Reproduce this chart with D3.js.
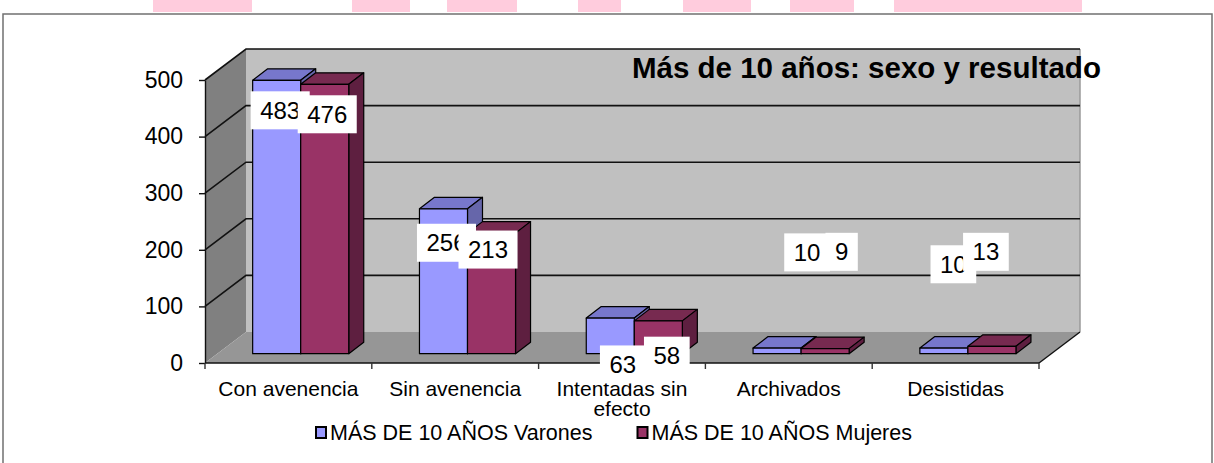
<!DOCTYPE html>
<html><head><meta charset="utf-8">
<script src="https://cdn.jsdelivr.net/npm/d3@7"></script>
<style>html,body{margin:0;padding:0;background:#fff;} svg{display:block;font-family:"Liberation Sans",Arial,sans-serif;}</style>
</head><body><svg id="c" width="1214" height="463"></svg>
<script>
// ---- data ----
const categories = ["Con avenencia", "Sin avenencia", "Intentadas sin efecto", "Archivados", "Desistidas"];
const varones = [483, 256, 63, 10, 10];
const mujeres = [476, 213, 58, 9, 13];
const seriesNames = ["MÁS DE 10 AÑOS Varones", "MÁS DE 10 AÑOS Mujeres"];
const yTicks = [0, 100, 200, 300, 400, 500];
const title = "Más de 10 años: sexo y resultado";

// ---- layout (manually placed data labels, in value units / px shift) ----
const labelAnchorV = [430, 196, -19, 179, 158];
const labelAnchorM = [423, 184, -3.5, 180, 180];
const labelShiftV = [3.5, 3, 12.5, 30, 9.5];
const labelShiftM = [2.5, -3.5, 8.5, 16.5, -6];
const topStrips = [[153, 252], [352, 410], [447, 517], [578, 621], [683, 751], [790, 854], [894, 1082]];

const colors = {
  v: {front: "#9999FF", top: "#7777CC", side: "#6666AA"},
  m: {front: "#993366", top: "#772A50", side: "#5E1F40"}
};

const svg = d3.select("#c");
const FONT = '"Liberation Sans", Arial, sans-serif';
const DX = 41, DY = 31;          // full floor depth
const BSX = 12.3, BSY = 9.3;     // bar depth position
const BDX = 15, BDY = 11.5;      // bar thickness in depth

const x = d3.scaleBand().domain(categories).range([205, 1039]);
const y = d3.scaleLinear().domain([0, 500]).range([363, 80]);
const xs = d3.scaleBand().domain([0, 1]).range([0, x.bandwidth() * 0.576]);

// top pink strips
svg.selectAll("rect.strip").data(topStrips).join("rect")
  .attr("x", d => d[0]).attr("y", 0).attr("width", d => d[1] - d[0]).attr("height", 12)
  .attr("fill", "#FFCCDD");
// frame
svg.append("rect").attr("x", 3).attr("y", 14).attr("width", 1209).attr("height", 470)
  .attr("fill", "none").attr("stroke", "#707070").attr("stroke-width", 1.5);

const x0 = x.range()[0], x1 = x.range()[1];
const y0 = y(0), yTop = y(500);
// back wall
svg.append("rect").attr("x", x0 + DX).attr("y", yTop - DY).attr("width", x1 - x0).attr("height", y0 - yTop)
  .attr("fill", "#C0C0C0");
// left wall
svg.append("path").attr("d", `M${x0},${yTop}L${x0 + DX},${yTop - DY}L${x0 + DX},${y0 - DY}L${x0},${y0}Z`)
  .attr("fill", "#808080");
// floor
svg.append("path").attr("d", `M${x0},${y0}L${x0 + DX},${y0 - DY}L${x1 + DX},${y0 - DY}L${x1},${y0}Z`)
  .attr("fill", "#969696");
// back wall right edge
svg.append("line").attr("x1", x1 + DX).attr("x2", x1 + DX).attr("y1", yTop - DY).attr("y2", y0 - DY)
  .attr("stroke", "#9a9a9a").attr("stroke-width", 1.5);
// gridlines
svg.selectAll("path.grid").data(yTicks.filter(t => t > 0)).join("path")
  .attr("d", t => `M${x0},${y(t)}L${x0 + DX},${y(t) - DY}L${x1 + DX},${y(t) - DY}`)
  .attr("fill", "none").attr("stroke", "#111").attr("stroke-width", 1.6);
// floor right edge
svg.append("line").attr("x1", x1).attr("y1", y0).attr("x2", x1 + DX).attr("y2", y0 - DY)
  .attr("stroke", "#111").attr("stroke-width", 1.4);

// value axis
const ya = svg.append("g").attr("transform", `translate(${x0},0)`)
  .call(d3.axisLeft(y).tickValues(yTicks).tickSize(6).tickSizeOuter(0).tickPadding(16).tickFormat(d3.format("d")));
ya.select(".domain").attr("stroke", "#111").attr("stroke-width", 1.4);
ya.selectAll(".tick line").attr("stroke", "#111").attr("stroke-width", 1.4);
ya.selectAll(".tick text").attr("font-size", 23).attr("font-family", FONT).attr("fill", "#000");

// category axis line + boundary ticks
svg.append("line").attr("x1", x0).attr("x2", x1).attr("y1", y0).attr("y2", y0)
  .attr("stroke", "#111").attr("stroke-width", 1.6);
const bounds = categories.map(c => x(c)).concat([x1]);
svg.selectAll("line.bt").data(bounds).join("line")
  .attr("x1", d => d).attr("x2", d => d).attr("y1", y0).attr("y2", y0 + 6)
  .attr("stroke", "#333").attr("stroke-width", 1.4);

// bars
function bar(g, left, val, col) {
  const bw = xs.bandwidth();
  const base = y(0) - BSY, top = y(val) - BSY;
  g.append("path").attr("d", `M${left},${top}L${left + bw},${top}L${left + bw + BDX},${top - BDY}L${left + BDX},${top - BDY}Z`)
    .attr("fill", col.top);
  g.append("path").attr("d", `M${left + bw},${top}L${left + bw + BDX},${top - BDY}L${left + bw + BDX},${base - BDY}L${left + bw},${base}Z`)
    .attr("fill", col.side);
  g.append("rect").attr("x", left).attr("y", top).attr("width", bw).attr("height", base - top)
    .attr("fill", col.front);
  g.selectAll("path,rect").attr("stroke", "#000").attr("stroke-width", 1.2).attr("stroke-linejoin", "round");
}
const barsG = svg.append("g");
categories.forEach((c, i) => {
  const off = x(c) + (x.bandwidth() - xs.range()[1]) / 2 + BSX;
  bar(barsG.append("g"), off + xs(0), varones[i], colors.v);
  bar(barsG.append("g"), off + xs(1), mujeres[i], colors.m);
});

// category labels (wrapped)
const catG = svg.append("g");
categories.forEach(c => {
  const cx = x(c) + x.bandwidth() / 2;
  const t = catG.append("text").attr("x", cx).attr("y", 396)
    .attr("text-anchor", "middle").attr("font-size", 21).attr("font-family", FONT).attr("fill", "#000");
  const words = c.split(" ");
  let line = [], ts = t.append("tspan").attr("x", cx).attr("dy", 0);
  words.forEach(w => {
    line.push(w); ts.text(line.join(" "));
    if (ts.node().getComputedTextLength() > 158 && line.length > 1) {
      line.pop(); ts.text(line.join(" "));
      line = [w];
      ts = t.append("tspan").attr("x", cx).attr("dy", 20).text(w);
    }
  });
});

// data labels
const lblG = svg.append("g");
function label(val, cx, cy) {
  const g = lblG.append("g");
  const t = g.append("text").attr("x", cx).attr("y", cy).attr("text-anchor", "middle")
    .attr("dominant-baseline", "central").attr("font-size", 24).attr("font-family", FONT).attr("fill", "#000").text(val);
  const w = t.node().getComputedTextLength() + 19;
  g.insert("rect", "text").attr("x", cx - w / 2).attr("y", cy - 19).attr("width", w).attr("height", 38).attr("fill", "#fff");
}
const barCenter = (c, s) => x(c) + (x.bandwidth() - xs.range()[1]) / 2 + BSX + xs(s) + xs.bandwidth() / 2;
categories.forEach((c, i) => label(varones[i], barCenter(c, 0) + labelShiftV[i], y(labelAnchorV[i]) - BSY));
categories.forEach((c, i) => label(mujeres[i], barCenter(c, 1) + labelShiftM[i], y(labelAnchorM[i]) - BSY));

// title
svg.append("text").attr("x", 632).attr("y", 78).attr("font-size", 29.5).attr("font-weight", "bold")
  .attr("font-family", FONT).attr("fill", "#000").text(title);

// legend
const legG = svg.append("g");
let lx = 316;
seriesNames.forEach((n, i) => {
  const col = i === 0 ? colors.v.front : colors.m.front;
  legG.append("rect").attr("x", lx).attr("y", 427).attr("width", 10).attr("height", 11)
    .attr("fill", col).attr("stroke", "#000").attr("stroke-width", 2);
  const t = legG.append("text").attr("x", lx + 14).attr("y", 433).attr("dominant-baseline", "central")
    .attr("font-size", 21.5).attr("font-family", FONT).attr("fill", "#000").text(n);
  lx += 14 + t.node().getComputedTextLength() + 45;
});
</script></body></html>
